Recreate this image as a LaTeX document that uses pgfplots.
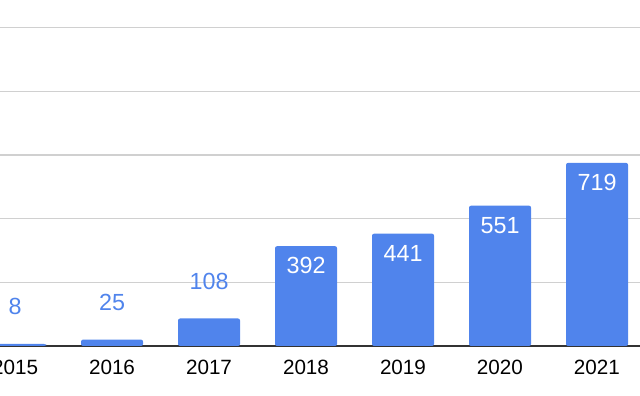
\documentclass[border=0pt]{standalone}
\usepackage{pgfplots}
\pgfplotsset{compat=1.18}
\usepackage{fontspec}
\setmainfont{Liberation Sans}
\definecolor{barblue}{HTML}{5084EC}
\definecolor{gridgray}{HTML}{D0D0D0}
\definecolor{axisgray}{HTML}{333333}
\begin{document}
\begin{tikzpicture}
\path[use as bounding box] (0,-37.5pt) rectangle (480pt,259.5pt);
\begin{axis}[
  at={(0,0)}, anchor=south west,
  scale only axis,
  width=480pt, height=259.5pt,
  xmin=2014.845, xmax=2021.443,
  ymin=0, ymax=1358.8,
  axis x line*=bottom,
  axis y line*=left,
  y axis line style={draw=none},
  x axis line style={draw=axisgray, line width=0.8pt},
  ybar, bar width=46.5pt, bar shift=0pt,
  xtick={2015,...,2021},
  xticklabels={2015,2016,2017,2018,2019,2020,2021},
  x tick label style={font=\fontsize{15.5pt}{18pt}\selectfont, text=black, anchor=north, yshift=-10.5pt, inner sep=0pt},
  major tick length=0pt,
  ytick={250,500,750,1000,1250},
  yticklabels={},
  ymajorgrids,
  grid style={gridgray, line width=0.8pt},
  /pgf/number format/assume math mode=true,
  clip=true,
]
\addplot[fill=barblue, draw=none, rounded corners=1.5pt,
  nodes near coords,
  nodes near coords style={font=\fontsize{17.5pt}{20pt}\selectfont, text=barblue, anchor=south, inner sep=0pt, yshift=21.75pt},
] coordinates {(2015,8) (2016,25) (2017,108)};
\addplot[fill=barblue, draw=none, rounded corners=1.5pt,
  nodes near coords,
  nodes near coords style={font=\fontsize{17.5pt}{20pt}\selectfont, text=white, anchor=north, inner sep=0pt, yshift=-8.25pt},
] coordinates {(2018,392) (2019,441) (2020,551) (2021,719)};
\end{axis}
\end{tikzpicture}
\end{document}
